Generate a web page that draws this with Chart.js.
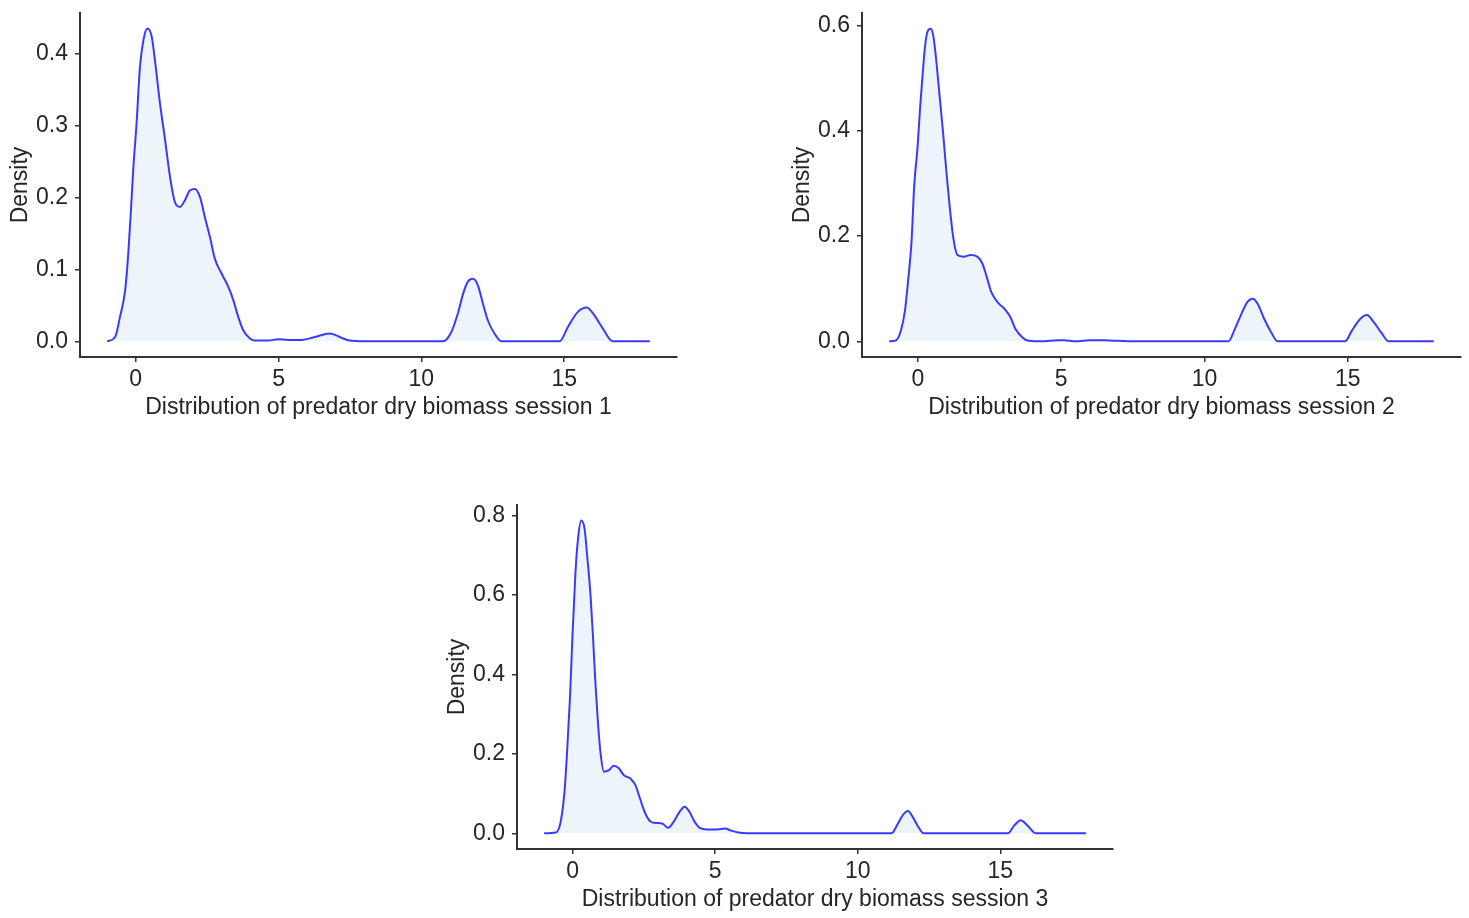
<!DOCTYPE html>
<html>
<head>
<meta charset="utf-8">
<script src="https://cdn.jsdelivr.net/npm/chart.js@4.4.0/dist/chart.umd.min.js"></script>
<style>
  html, body { margin: 0; padding: 0; background: #fff; overflow: hidden; }
  canvas { position: absolute; }
</style>
</head>
<body>
<canvas id="c1" width="700" height="425" style="left:0px;top:0px"></canvas>
<canvas id="c2" width="687" height="425" style="left:782px;top:0px"></canvas>
<canvas id="c3" width="700" height="425" style="left:437px;top:492px"></canvas>
<script>
// density curves (x = dry biomass, y = density)
const s1X = [-1.0, -0.72, -0.55, -0.37, -0.26, -0.16, -0.08, 0.03, 0.15, 0.27, 0.41, 0.56, 0.70, 0.85, 1.03, 1.20, 1.37, 1.55, 1.72, 1.90,
             2.07, 2.25, 2.42, 2.60, 2.77, 3.01, 3.24, 3.42, 3.59, 3.77, 4.00, 4.17, 4.64, 4.99, 5.34, 5.80, 6.27, 6.79, 7.20, 7.49,
             8.0, 10.76, 11.05, 11.28, 11.46, 11.63, 11.81, 11.98, 12.16, 12.33, 12.56, 12.80, 14.84, 15.13, 15.48, 15.79, 16.06, 16.35, 16.70, 18.0];
const s1Y = [0, 0.006, 0.034, 0.071, 0.122, 0.187, 0.243, 0.303, 0.382, 0.419, 0.435, 0.424, 0.382, 0.331, 0.280, 0.229, 0.194, 0.187, 0.196, 0.210,
             0.212, 0.201, 0.173, 0.145, 0.115, 0.094, 0.076, 0.057, 0.034, 0.015, 0.004, 0.001, 0.001, 0.003, 0.002, 0.002, 0.006, 0.011, 0.005, 0.001,
             0, 0, 0.013, 0.039, 0.066, 0.083, 0.087, 0.078, 0.052, 0.029, 0.011, 0, 0, 0.020, 0.041, 0.047, 0.036, 0.018, 0, 0];

const s2X = [-1.0, -0.76, -0.59, -0.45, -0.34, -0.22, -0.13, -0.01, 0.08, 0.16, 0.25, 0.34, 0.45, 0.54, 0.65, 0.76, 0.88, 1.00, 1.11, 1.23,
             1.38, 1.59, 1.84, 2.07, 2.25, 2.40, 2.56, 2.77, 3.02, 3.23, 3.40, 3.64, 3.87, 4.3, 4.9, 5.1, 5.5, 6.0, 6.5, 7.0,
             7.5, 10.84, 11.04, 11.27, 11.50, 11.68, 11.85, 12.08, 12.32, 12.55, 14.90, 15.15, 15.44, 15.67, 15.90, 16.19, 16.42, 18.0];
const s2Y = [0, 0.002, 0.021, 0.059, 0.116, 0.192, 0.294, 0.370, 0.446, 0.503, 0.561, 0.589, 0.594, 0.580, 0.529, 0.465, 0.396, 0.319, 0.256, 0.199,
             0.164, 0.161, 0.164, 0.161, 0.148, 0.123, 0.094, 0.075, 0.062, 0.046, 0.024, 0.008, 0.001, 0, 0.002, 0.002, 0, 0.002, 0.002, 0.001,
             0, 0, 0.021, 0.050, 0.075, 0.081, 0.072, 0.043, 0.018, 0, 0, 0.021, 0.043, 0.050, 0.037, 0.015, 0, 0];

const s3X = [-1.0, -0.59, -0.42, -0.28, -0.19, -0.09, -0.01, 0.10, 0.19, 0.30, 0.42, 0.51, 0.63, 0.72, 0.80, 0.89, 0.98, 1.10, 1.27, 1.44,
             1.62, 1.79, 2.03, 2.20, 2.38, 2.55, 2.73, 2.96, 3.14, 3.35, 3.54, 3.75, 3.93, 4.10, 4.28, 4.48, 4.71, 5.06, 5.35, 5.52,
             5.81, 6.1, 11.18, 11.41, 11.58, 11.76, 11.93, 12.11, 12.31, 15.26, 15.49, 15.72, 15.95, 16.25, 18.0];
const s3Y = [0, 0.002, 0.029, 0.109, 0.210, 0.345, 0.489, 0.657, 0.742, 0.788, 0.767, 0.700, 0.598, 0.489, 0.379, 0.278, 0.202, 0.155, 0.159, 0.170,
             0.164, 0.147, 0.138, 0.122, 0.084, 0.050, 0.030, 0.026, 0.025, 0.014, 0.029, 0.054, 0.067, 0.054, 0.029, 0.013, 0.010, 0.010, 0.012, 0.008,
             0.002, 0, 0, 0.025, 0.046, 0.056, 0.041, 0.018, 0, 0, 0.020, 0.033, 0.020, 0, 0];

// tick labels and axis limits
const xTicks = [0, 5, 10, 15];
const xLim = [-1.95, 18.95];
const yTicks1 = [0, 0.1, 0.2, 0.3, 0.4];
const yTicks2 = [0, 0.2, 0.4, 0.6];
const yTicks3 = [0, 0.2, 0.4, 0.6, 0.8];
const yLim1 = [-0.0218, 0.4567];
const yLim2 = [-0.0297, 0.624];
const yLim3 = [-0.0394, 0.827];

const xTitles = [
    "Distribution of predator dry biomass session 1",
    "Distribution of predator dry biomass session 2",
    "Distribution of predator dry biomass session 3"
];

function drawDensity(id, xs, ys, yTicks, yLim, xTitle, padRight) {
    let ctx = document.getElementById(id).getContext("2d");
    let axisColor = '#333333';
    let textColor = '#262626';
    let font = { family: "'Liberation Sans', Arial, sans-serif", size: 23 };

    new Chart(ctx, {
        type: 'line',
        data: {
            datasets: [{
                data: xs.map((x, i) => ({ x: x, y: ys[i] })),
                borderColor: '#3a3aff',
                backgroundColor: '#eef5fa',
                borderWidth: 2,
                fill: 'origin',
                pointRadius: 0,
                cubicInterpolationMode: 'monotone'
            }]
        },
        options: {
            responsive: false,
            animation: false,
            layout: { padding: { top: 13, right: padRight, bottom: 0, left: 0 } },
            plugins: { legend: { display: false }, tooltip: { enabled: false } },
            scales: {
                x: {
                    type: 'linear',
                    min: xLim[0],
                    max: xLim[1],
                    afterFit: s => { s.height = 68; s.paddingLeft = 0; s.paddingRight = 0; },
                    afterBuildTicks: s => { s.ticks = xTicks.map(v => ({ value: v })); },
                    grid: { drawOnChartArea: false, drawTicks: true, tickLength: 5, color: axisColor, lineWidth: 1.5 },
                    border: { display: true, color: axisColor, width: 2 },
                    ticks: { color: textColor, font: font, padding: 4, maxRotation: 0, callback: v => String(v) },
                    title: { display: true, text: xTitle, color: textColor, font: font, padding: { top: 0, bottom: 4 } }
                },
                y: {
                    type: 'linear',
                    min: yLim[0],
                    max: yLim[1],
                    afterFit: s => { s.width = 80; s.paddingTop = 0; s.paddingBottom = 0; },
                    afterBuildTicks: s => { s.ticks = yTicks.map(v => ({ value: v })); },
                    grid: { drawOnChartArea: false, drawTicks: true, tickLength: 5, color: axisColor, lineWidth: 1.5 },
                    border: { display: true, color: axisColor, width: 2 },
                    ticks: { color: textColor, font: font, padding: 7, callback: v => v.toFixed(1) },
                    title: { display: true, text: 'Density', color: textColor, font: font, padding: { top: 7, bottom: 0 } }
                }
            }
        }
    });
}

drawDensity('c1', s1X, s1Y, yTicks1, yLim1, xTitles[0], 23);
drawDensity('c2', s2X, s2Y, yTicks2, yLim2, xTitles[1], 8);
drawDensity('c3', s3X, s3Y, yTicks3, yLim3, xTitles[2], 24);
</script>
</body>
</html>
